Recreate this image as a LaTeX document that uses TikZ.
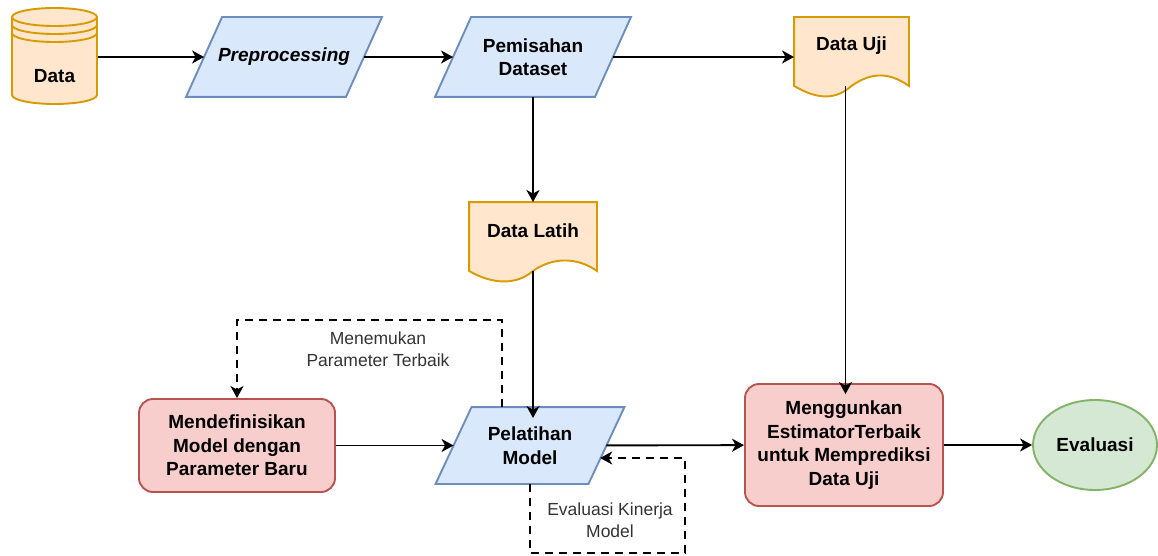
\documentclass[tikz,border=0pt]{standalone}
\usepackage{fontspec}
\setmainfont{Liberation Sans}
\usetikzlibrary{arrows.meta,backgrounds,shapes.geometric}

\definecolor{bluefill}{HTML}{DAE8FC}
\definecolor{blueline}{HTML}{6C8EBF}
\definecolor{orangefill}{HTML}{FFE6CC}
\definecolor{orangeline}{HTML}{D79B00}
\definecolor{redfill}{HTML}{F8CECC}
\definecolor{redline}{HTML}{B85450}
\definecolor{greenfill}{HTML}{D5E8D4}
\definecolor{greenline}{HTML}{82B366}

\begin{document}
\begin{tikzpicture}[%
x=1pt, y=-1pt, line width=1.9pt,
every on background layer/.style={line width=1.9pt},
>={Stealth[length=12pt,width=13pt,inset=3.5pt]},
txt/.style={font=\fontsize{19}{23.5}\selectfont\bfseries, align=center},
note/.style={font=\fontsize{17.5}{22}\selectfont, text=black!80, align=center},
para/.style={txt, minimum width=158pt, minimum height=78pt},
doc/.style={txt, minimum height=56pt},
proc/.style={txt, draw=redline, fill=redfill, rounded corners=14pt},
feedback/.style={->, dash pattern=on 8pt off 6pt}]%units are pixels of the sketch, y runs down
\useasboundingbox (0,0) rectangle (1158,556);

\node[txt, minimum width=85pt, minimum height=96pt, text height=52pt, text depth=0pt] (data) at (54.5,57) {Data};
\node[para] (prep) at (284,57) {\itshape Preprocessing};
\node[para] (pisah) at (533,57) {Pemisahan\\Dataset};
\node[doc, minimum width=113pt] (uji) at (851.5,46) {Data Uji};
\node[doc, minimum width=126pt] (latih) at (533,231) {Data Latih};
\node[para, minimum width=151pt, minimum height=75pt] (latihmodel) at (530,445.5) {Pelatihan\\Model};
\node[proc, minimum width=196pt, minimum height=93pt] (definisi) at (237,445.5) {Mendefinisikan\\Model dengan\\Parameter Baru};
\node[proc, minimum width=198pt, minimum height=122pt] (prediksi) at (844,445) {Menggunkan\\EstimatorTerbaik\\untuk Memprediksi\\Data Uji};
\node[txt, ellipse, draw=greenline, fill=greenfill, inner sep=0pt, minimum width=124pt, minimum height=90pt] (eval) at (1095,445) {Evaluasi};

\node[note] (carimodel) at (378,349) {Menemukan\\Parameter Terbaik};
\node[note] (kinerja) at (610,520) {Evaluasi Kinerja\\Model};

\begin{scope}[on background layer]
% database
\filldraw[draw=orangeline, fill=orangefill] (12,17) -- (12,95) arc[start angle=180, end angle=0, x radius=42.5, y radius=9] -- (97,17) arc[start angle=0, end angle=-180, x radius=42.5, y radius=9] -- cycle;
\foreach \y in {17,25,33}
  \draw[orangeline] (12,\y) arc[start angle=180, end angle=0, x radius=42.5, y radius=9];
% input/output boxes
\foreach \n in {prep,pisah,latihmodel}
  \filldraw[draw=blueline, fill=bluefill] ([xshift=18pt]\n.north west) -- ([xshift=18pt]\n.north east) -- ([xshift=-18pt]\n.south east) -- ([xshift=-18pt]\n.south west) -- cycle;
% documents
\foreach \n in {uji,latih}
  \filldraw[draw=orangeline, fill=orangefill] (\n.north west) -- (\n.north east) -- ([yshift=-11pt]\n.south east) .. controls +(-20,-14) and +(20,-14) .. ([yshift=-11pt]\n.south) .. controls +(-16,14) and +(24,14) .. ([yshift=-11pt]\n.south west) -- cycle;
\end{scope}

\draw[->] (data.east) -- (prep.west);
\draw[->] (prep) -- (pisah);
\draw[->] (pisah.east) -- (pisah.east -| uji.west);
\draw[->] (pisah) -- (latih);
\draw[->] ([yshift=-11pt]latih.south) -- ([yshift=-11pt]latih.south |- latihmodel.north);
\draw[->] ([xshift=-6pt,yshift=-11pt]uji.south) -- ([xshift=-6pt,yshift=-11pt]uji.south |- prediksi.north);
\draw[->] (definisi) -- (latihmodel);
\draw[->] (latihmodel) -- (prediksi);
\draw[->] (prediksi) -- (eval);
\draw[feedback] ([xshift=-28pt]latihmodel.north) -- ++(0,-87) -| (definisi.north);
\draw[feedback] (latihmodel.south) -- ++(0,69) -- ++(155,0) |- ([xshift=-6.3pt,yshift=-12.5pt]latihmodel.east);
\end{tikzpicture}
\end{document}
